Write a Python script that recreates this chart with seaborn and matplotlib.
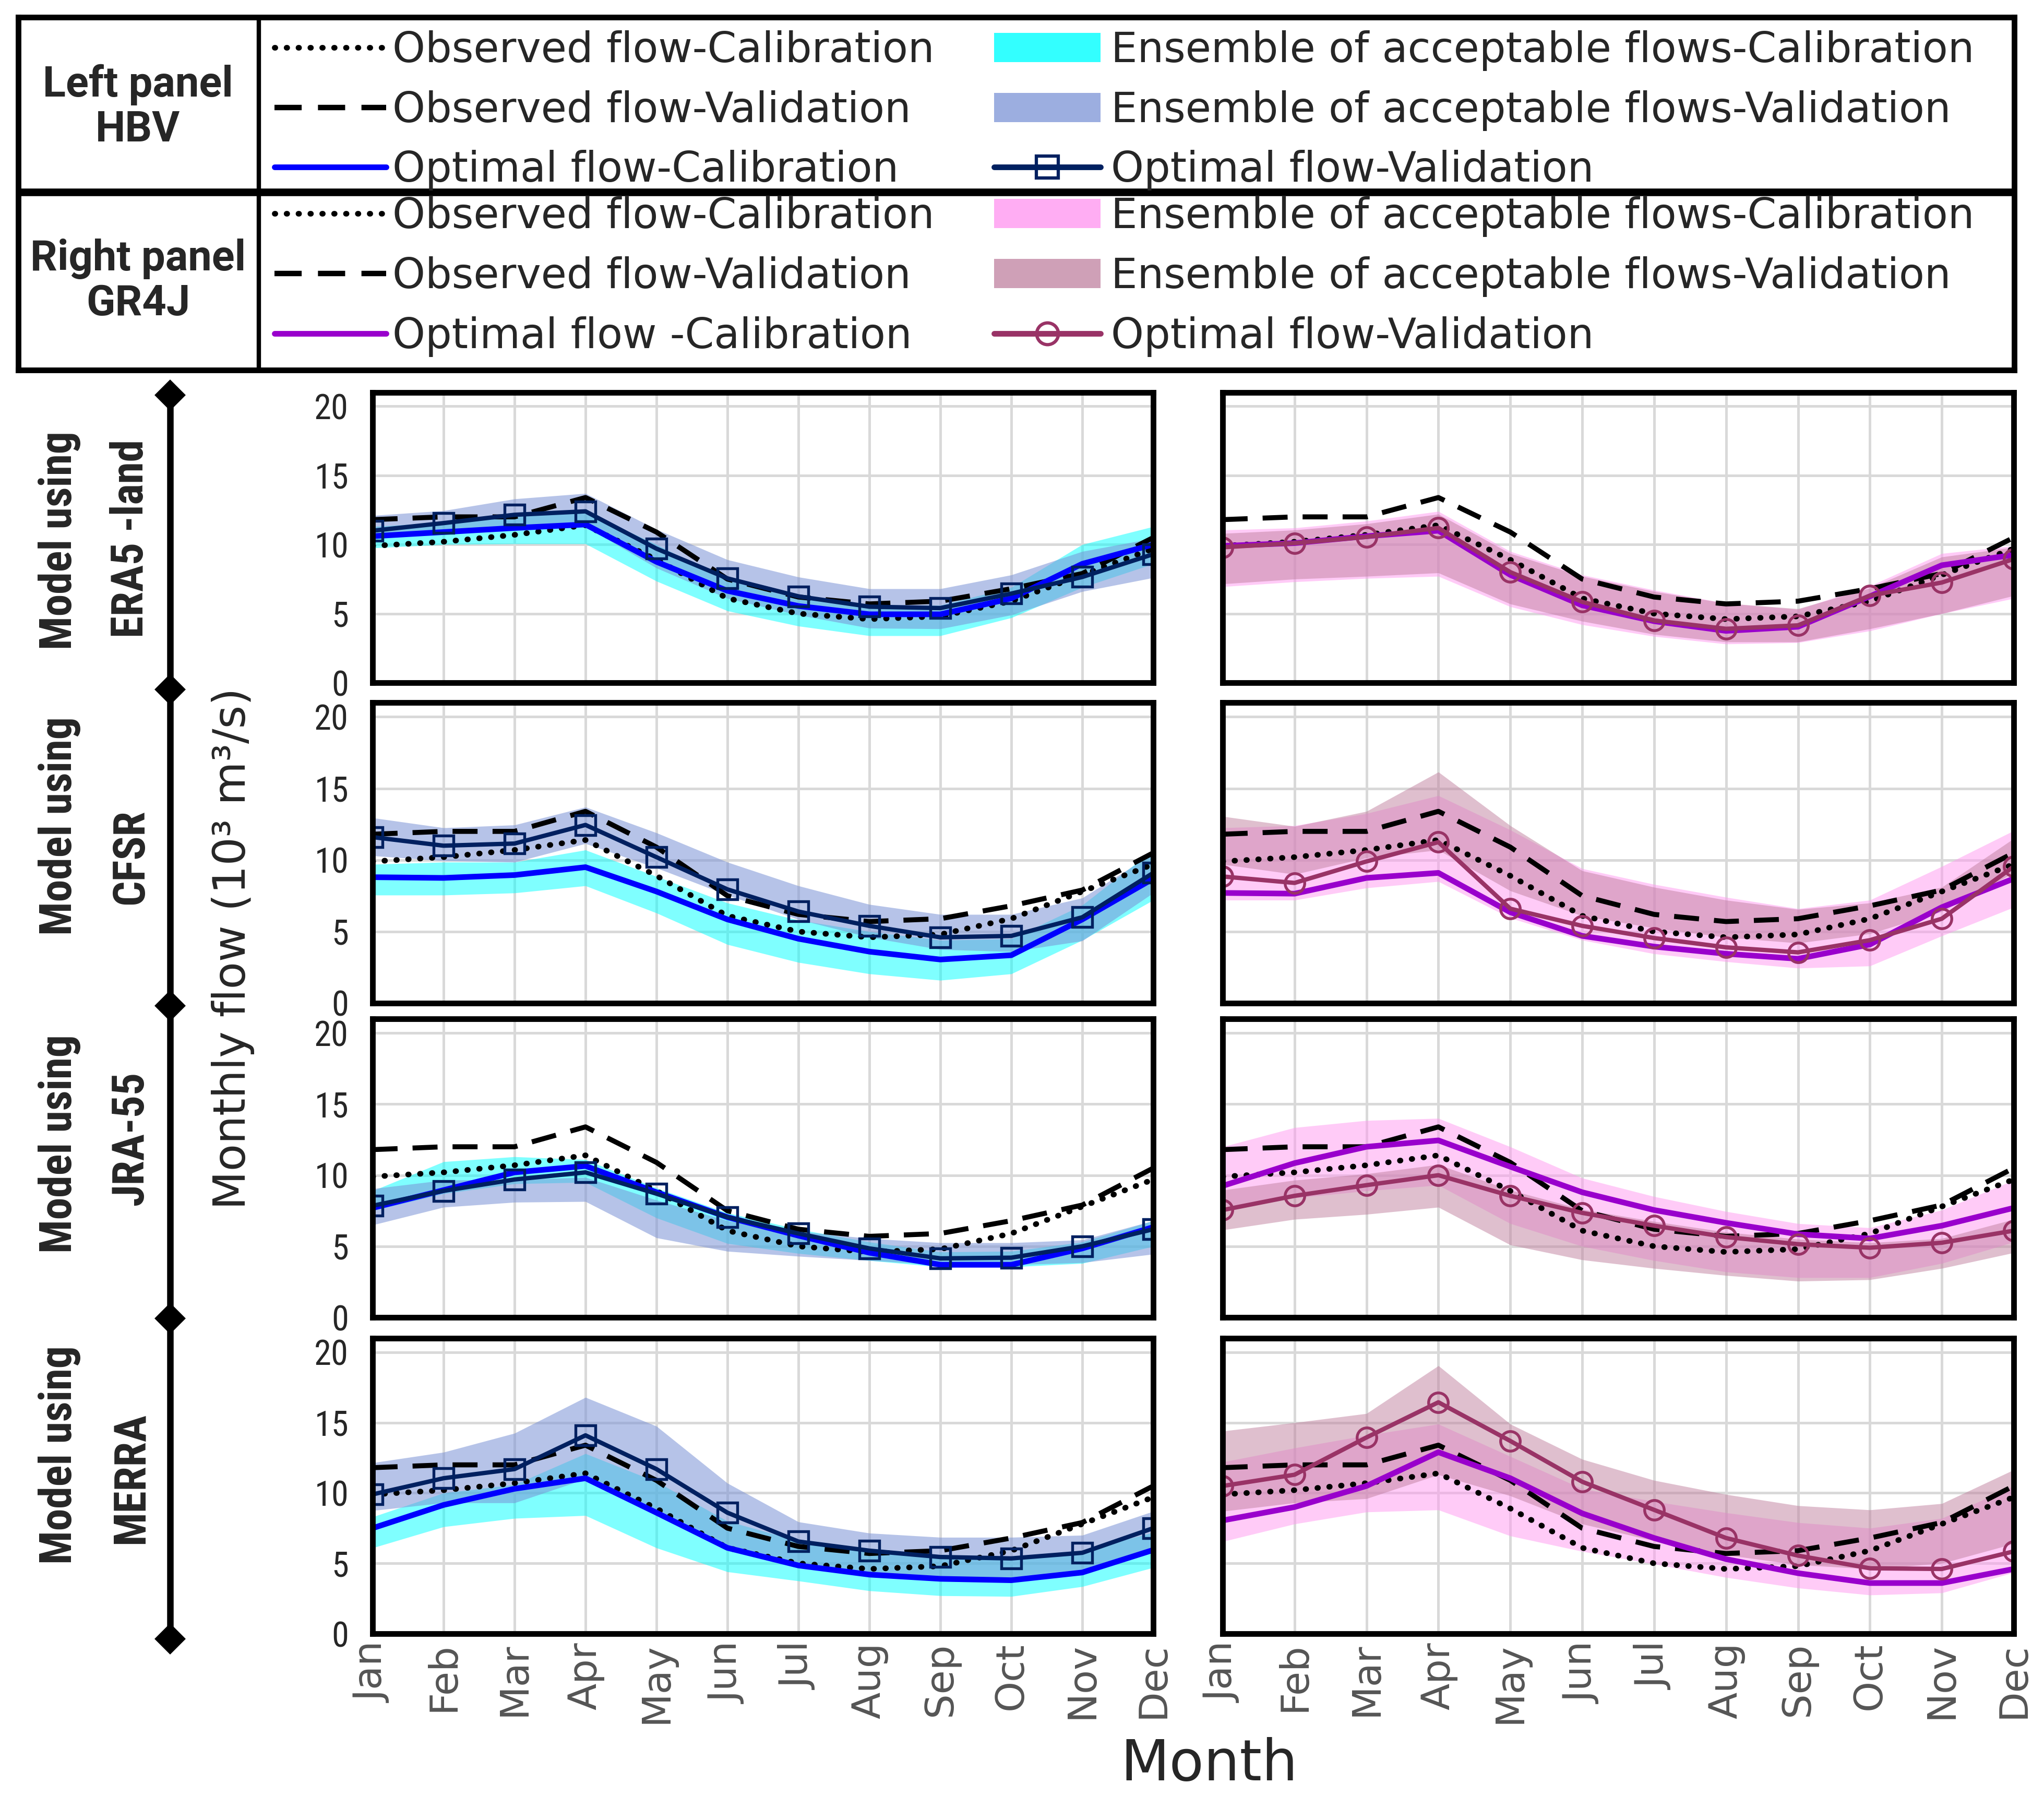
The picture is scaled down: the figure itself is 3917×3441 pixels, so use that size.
import numpy as np
import pandas as pd
import matplotlib
matplotlib.use('Agg')
import matplotlib.pyplot as plt
import seaborn as sns
from matplotlib.lines import Line2D
from matplotlib.patches import Patch

# ---- data (10^3 m3/s) ----
months = ['Jan', 'Feb', 'Mar', 'Apr', 'May', 'Jun', 'Jul', 'Aug', 'Sep', 'Oct', 'Nov', 'Dec']
obs_cal = [9.9, 10.2, 10.7, 11.4, 8.9, 6.1, 5.0, 4.6, 4.8, 5.9, 7.8, 9.7]
obs_val = [11.8, 12.0, 12.0, 13.4, 10.9, 7.5, 6.2, 5.7, 5.9, 6.8, 7.9, 10.5]

# HBV - ERA5-land
hbv_era5_opt_cal = [10.6, 10.9, 11.2, 11.45, 8.75, 6.65, 5.55, 4.95, 4.95, 6.1, 8.6, 10.0]
hbv_era5_opt_val = [11.0, 11.55, 12.15, 12.4, 9.7, 7.55, 6.25, 5.5, 5.4, 6.45, 7.65, 9.3]
hbv_era5_cal_lo = [9.75, 10.0, 10.05, 10.05, 7.35, 5.2, 4.1, 3.4, 3.4, 4.7, 6.9, 8.6]
hbv_era5_cal_hi = [11.3, 11.6, 12.0, 12.4, 10.0, 7.4, 6.1, 5.6, 5.6, 6.9, 10.0, 11.3]
hbv_era5_val_lo = [10.45, 10.75, 11.0, 11.3, 8.3, 6.1, 4.9, 3.95, 3.9, 4.9, 6.6, 7.6]
hbv_era5_val_hi = [12.1, 12.45, 13.3, 13.7, 11.1, 8.9, 7.65, 6.8, 6.8, 7.8, 9.5, 10.45]

# GR4J - ERA5-land
gr_era5_opt_cal = [9.9, 10.1, 10.6, 11.0, 7.8, 5.6, 4.45, 3.75, 4.05, 6.25, 8.5, 9.25]
gr_era5_opt_val = [9.8, 10.1, 10.55, 11.2, 8.0, 5.85, 4.5, 3.9, 4.15, 6.3, 7.25, 8.95]
gr_era5_cal_lo = [6.95, 7.3, 7.55, 7.7, 5.5, 4.2, 3.35, 2.8, 2.9, 3.75, 5.0, 6.1]
gr_era5_cal_hi = [11.05, 11.2, 11.7, 12.4, 9.5, 7.8, 6.7, 5.75, 5.3, 7.0, 9.35, 9.9]
gr_era5_val_lo = [7.15, 7.5, 7.7, 7.95, 5.7, 4.45, 3.5, 2.95, 2.95, 3.9, 5.0, 6.3]
gr_era5_val_hi = [10.8, 11.05, 11.5, 12.2, 9.35, 7.7, 6.6, 5.75, 5.35, 6.85, 9.1, 9.8]

# HBV - CFSR
hbv_cfsr_opt_cal = [8.8, 8.75, 8.95, 9.5, 7.8, 5.85, 4.5, 3.6, 3.05, 3.35, 5.85, 8.7]
hbv_cfsr_opt_val = [11.6, 11.0, 11.15, 12.45, 10.2, 7.95, 6.4, 5.4, 4.6, 4.7, 6.0, 9.1]
hbv_cfsr_cal_lo = [7.55, 7.55, 7.7, 8.2, 6.3, 4.1, 2.85, 2.05, 1.6, 2.05, 4.4, 7.2]
hbv_cfsr_cal_hi = [9.7, 9.85, 9.85, 10.7, 8.85, 7.0, 5.8, 5.0, 4.4, 4.5, 6.85, 10.7]
hbv_cfsr_val_lo = [10.3, 9.95, 9.85, 11.15, 9.45, 7.55, 5.85, 4.6, 3.75, 3.6, 4.35, 7.7]
hbv_cfsr_val_hi = [12.95, 12.25, 12.45, 13.7, 11.9, 9.85, 8.2, 6.9, 6.2, 6.2, 7.35, 10.45]

# GR4J - CFSR
gr_cfsr_opt_cal = [7.7, 7.65, 8.75, 9.1, 6.35, 4.7, 3.95, 3.45, 3.1, 4.1, 6.7, 8.7]
gr_cfsr_opt_val = [8.85, 8.4, 9.9, 11.25, 6.6, 5.4, 4.55, 3.9, 3.55, 4.4, 5.9, 9.55]
gr_cfsr_cal_lo = [7.2, 7.2, 8.05, 8.5, 5.95, 4.4, 3.45, 2.9, 2.45, 2.6, 4.7, 6.7]
gr_cfsr_cal_hi = [12.25, 12.4, 13.25, 14.5, 12.1, 9.4, 8.3, 7.4, 6.6, 7.2, 9.55, 12.05]
gr_cfsr_val_lo = [9.7, 9.0, 10.15, 10.7, 7.85, 6.1, 5.25, 4.6, 4.2, 4.85, 6.4, 9.1]
gr_cfsr_val_hi = [13.05, 12.35, 13.4, 16.15, 12.4, 9.25, 8.1, 7.2, 6.55, 7.0, 8.1, 11.5]

# HBV - JRA-55
hbv_jra_opt_cal = [7.7, 8.95, 10.2, 10.65, 8.8, 7.05, 5.75, 4.55, 3.7, 3.7, 4.85, 6.35]
hbv_jra_opt_val = [7.85, 8.9, 9.7, 10.2, 8.7, 7.05, 5.9, 4.85, 4.15, 4.2, 5.0, 6.2]
hbv_jra_cal_lo = [7.5, 8.7, 9.4, 9.5, 7.0, 5.2, 4.5, 4.0, 3.55, 3.55, 3.8, 5.0]
hbv_jra_cal_hi = [8.9, 10.95, 11.3, 11.1, 9.1, 7.35, 6.2, 5.3, 4.6, 4.65, 5.3, 6.8]
hbv_jra_val_lo = [6.5, 7.75, 8.1, 8.15, 5.6, 4.65, 4.3, 4.0, 3.7, 3.7, 3.85, 4.45]
hbv_jra_val_hi = [9.05, 9.65, 9.7, 9.85, 8.25, 6.8, 6.05, 5.55, 5.25, 5.25, 5.45, 6.8]

# GR4J - JRA-55
gr_jra_opt_cal = [9.25, 10.85, 12.0, 12.45, 10.6, 8.8, 7.55, 6.65, 5.85, 5.55, 6.45, 7.7]
gr_jra_opt_val = [7.55, 8.55, 9.3, 10.0, 8.55, 7.35, 6.45, 5.65, 5.15, 4.9, 5.25, 6.1]
gr_jra_cal_lo = [7.8, 8.4, 8.9, 9.3, 6.6, 5.0, 4.0, 3.2, 2.8, 2.8, 3.8, 5.3]
gr_jra_cal_hi = [12.0, 13.35, 13.85, 14.0, 12.0, 9.8, 8.5, 7.45, 6.6, 6.3, 7.55, 9.65]
gr_jra_val_lo = [6.15, 6.9, 7.25, 7.75, 5.1, 4.05, 3.45, 2.95, 2.55, 2.65, 3.45, 4.55]
gr_jra_val_hi = [8.95, 9.65, 10.1, 10.75, 8.95, 7.6, 6.75, 6.0, 5.5, 5.25, 5.55, 6.9]

# HBV - MERRA
hbv_merra_opt_cal = [7.5, 9.15, 10.3, 11.05, 8.6, 6.1, 4.85, 4.2, 3.9, 3.8, 4.35, 5.95]
hbv_merra_opt_val = [9.9, 11.05, 11.7, 14.1, 11.7, 8.6, 6.55, 5.9, 5.45, 5.35, 5.75, 7.5]
hbv_merra_cal_lo = [6.1, 7.6, 8.2, 8.4, 6.1, 4.4, 3.75, 3.05, 2.7, 2.65, 3.35, 4.7]
hbv_merra_cal_hi = [8.3, 10.0, 10.6, 12.8, 10.8, 8.0, 6.6, 6.0, 5.6, 5.5, 5.9, 7.2]
hbv_merra_val_lo = [8.75, 9.3, 9.3, 11.0, 8.8, 6.2, 4.9, 4.3, 4.0, 3.9, 4.4, 5.9]
hbv_merra_val_hi = [12.15, 12.9, 14.25, 16.8, 14.75, 10.7, 7.95, 7.15, 6.85, 6.85, 7.0, 8.7]

# GR4J - MERRA
gr_merra_opt_cal = [8.05, 9.0, 10.5, 12.9, 11.05, 8.55, 6.8, 5.3, 4.3, 3.6, 3.6, 4.6]
gr_merra_opt_val = [10.5, 11.3, 13.95, 16.45, 13.7, 10.8, 8.8, 6.8, 5.55, 4.65, 4.6, 5.85]
gr_merra_cal_lo = [6.55, 7.8, 8.65, 8.8, 6.95, 5.85, 4.95, 4.0, 3.25, 2.75, 2.9, 4.35]
gr_merra_cal_hi = [12.2, 13.2, 14.1, 14.9, 12.6, 10.3, 9.4, 8.6, 7.9, 7.5, 8.2, 10.5]
gr_merra_val_lo = [8.7, 9.3, 9.6, 11.3, 9.8, 7.8, 6.6, 5.6, 4.9, 4.6, 5.0, 6.4]
gr_merra_val_hi = [14.4, 15.0, 15.65, 19.05, 14.9, 12.4, 10.9, 9.9, 9.1, 8.8, 9.25, 11.65]

row_names = ['ERA5 -land', 'CFSR', 'JRA-55', 'MERRA']

# ---- style ----
sns.set_theme(style='white')
plt.rcParams['font.family'] = ['DejaVu Sans']
narrow = ['Roboto Condensed', 'DejaVu Sans']
bold_face = ['Roboto', 'DejaVu Sans']

hbv_colors = dict(cal_band='#00ffff', val_band='#7b93d6', opt_cal='#0000ff', opt_val='#002060', marker='s')
gr_colors = dict(cal_band='#ff99f0', val_band='#c0809f', opt_cal='#9900cc', opt_val='#993366', marker='o')
dotted = (0, (0.1, 2.0))
dashed = (0, (5, 3))


def draw_panel(ax, opt_cal, opt_val, cal_lo, cal_hi, val_lo, val_hi, c, bottom, left):
    x = np.arange(len(months))
    df = pd.DataFrame({'m': x, 'obs_cal': obs_cal, 'obs_val': obs_val,
                       'opt_cal': opt_cal, 'opt_val': opt_val})
    ax.fill_between(x, cal_lo, cal_hi, color=c['cal_band'], alpha=0.5, lw=0)
    ax.fill_between(x, val_lo, val_hi, color=c['val_band'], alpha=0.55 if c is hbv_colors else 0.5, lw=0)
    sns.lineplot(data=df, x='m', y='obs_cal', ax=ax, color='black', lw=2.6,
                 linestyle=dotted, dash_capstyle='round', errorbar=None)
    sns.lineplot(data=df, x='m', y='obs_val', ax=ax, color='black', lw=2.3,
                 linestyle=dashed, errorbar=None)
    sns.lineplot(data=df, x='m', y='opt_cal', ax=ax, color=c['opt_cal'], lw=2.6, errorbar=None)
    sns.lineplot(data=df, x='m', y='opt_val', ax=ax, color=c['opt_val'], lw=2.0,
                 marker=c['marker'], markersize=9, markerfacecolor='none',
                 markeredgecolor=c['opt_val'], markeredgewidth=1.3, errorbar=None)
    ax.set_xlim(0, 11)
    ax.set_ylim(0, 21)
    ax.set_xticks(x)
    ax.set_yticks([0, 5, 10, 15, 20])
    ax.set_axisbelow(True)
    ax.grid(True, color='#d9d9d9', lw=1.2)
    for s in ax.spines.values():
        s.set_visible(True)
        s.set_color('black')
        s.set_linewidth(2.6)
    ax.set_xlabel('')
    ax.set_ylabel('')
    if bottom:
        ax.set_xticklabels(months, rotation=90, fontsize=18, color='#555555')
    else:
        ax.set_xticklabels([])
    ax.tick_params(axis='x', length=0, pad=4)
    if left:
        ax.tick_params(axis='y', length=7, width=1.6, direction='out', pad=4)
        for t in ax.get_yticklabels():
            t.set(fontsize=16, family=narrow)
    else:
        ax.tick_params(axis='y', length=0, labelleft=False)


W, H = 3917, 3441
fig = plt.figure(figsize=(W / 300, H / 300), dpi=300)

rows_px = [(752, 1308), (1346, 1922), (1952, 2524), (2564, 3130)]
left_x = (714, 2210)
right_x = (2343, 3859)

hbv_data = [
    (hbv_era5_opt_cal, hbv_era5_opt_val, hbv_era5_cal_lo, hbv_era5_cal_hi, hbv_era5_val_lo, hbv_era5_val_hi),
    (hbv_cfsr_opt_cal, hbv_cfsr_opt_val, hbv_cfsr_cal_lo, hbv_cfsr_cal_hi, hbv_cfsr_val_lo, hbv_cfsr_val_hi),
    (hbv_jra_opt_cal, hbv_jra_opt_val, hbv_jra_cal_lo, hbv_jra_cal_hi, hbv_jra_val_lo, hbv_jra_val_hi),
    (hbv_merra_opt_cal, hbv_merra_opt_val, hbv_merra_cal_lo, hbv_merra_cal_hi, hbv_merra_val_lo, hbv_merra_val_hi),
]
gr_data = [
    (gr_era5_opt_cal, gr_era5_opt_val, gr_era5_cal_lo, gr_era5_cal_hi, gr_era5_val_lo, gr_era5_val_hi),
    (gr_cfsr_opt_cal, gr_cfsr_opt_val, gr_cfsr_cal_lo, gr_cfsr_cal_hi, gr_cfsr_val_lo, gr_cfsr_val_hi),
    (gr_jra_opt_cal, gr_jra_opt_val, gr_jra_cal_lo, gr_jra_cal_hi, gr_jra_val_lo, gr_jra_val_hi),
    (gr_merra_opt_cal, gr_merra_opt_val, gr_merra_cal_lo, gr_merra_cal_hi, gr_merra_val_lo, gr_merra_val_hi),
]

for i, (top, bot) in enumerate(rows_px):
    b = 1 - bot / H
    h = (bot - top) / H
    axl = fig.add_axes([left_x[0] / W, b, (left_x[1] - left_x[0]) / W, h])
    draw_panel(axl, *hbv_data[i], hbv_colors, bottom=(i == 3), left=True)
    axr = fig.add_axes([right_x[0] / W, b, (right_x[1] - right_x[0]) / W, h])
    draw_panel(axr, *gr_data[i], gr_colors, bottom=(i == 3), left=False)

# ---- side labels and bracket line ----
label1_y = [0.699, 0.540, 0.363, 0.190]
label2_y = [0.700, 0.523, 0.366, 0.177]
for i, name in enumerate(row_names):
    fig.text(0.0290, label1_y[i], 'Model using', rotation=90, ha='center', va='center',
             fontsize=20.5, fontweight='bold', family=narrow)
    fig.text(0.0640, label2_y[i], name, rotation=90, ha='center', va='center',
             fontsize=20.5, fontweight='bold', family=narrow)

diamond_y = [0.0875, 0.266, 0.440, 0.616, 0.780]
fig.add_artist(Line2D([0.0832, 0.0832], [diamond_y[0], diamond_y[-1]], transform=fig.transFigure,
                      color='black', lw=3))
fig.add_artist(Line2D([0.0832] * len(diamond_y), diamond_y, transform=fig.transFigure,
                      color='black', lw=0, marker='D', markersize=9))

fig.text(0.1139, 0.472, 'Monthly flow (10³ m³/s)', rotation=90, ha='center', va='center', fontsize=20.5)
fig.text(0.5917, 0.0175, 'Month', ha='center', va='center', fontsize=26)

# ---- legend table ----
tab = fig.add_axes([35 / W, 1 - 709 / H, 3825 / W, 676 / H])
tab.set_xlim(0, 1)
tab.set_ylim(0, 1)
tab.set_xticks([])
tab.set_yticks([])
for s in tab.spines.values():
    s.set_visible(True)
    s.set_color('black')
    s.set_linewidth(2.6)
tab.axvline(0.1205, color='black', lw=2)
tab.axhline(0.5044, color='black', lw=3.5)
tab.text(0.060, 0.745, 'Left panel\nHBV', ha='center', va='center', fontsize=19.5,
         fontweight='bold', linespacing=1.12, family=bold_face)
tab.text(0.060, 0.2515, 'Right panel\nGR4J', ha='center', va='center', fontsize=19.5,
         fontweight='bold', linespacing=1.12, family=bold_face)


def legend_col(handles, labels, x, y, hlen, pad):
    fig.legend(handles=handles, labels=labels, loc='center left', bbox_to_anchor=(x, y),
               bbox_transform=fig.transFigure, frameon=False, fontsize=19.2,
               handlelength=hlen, handletextpad=pad, labelspacing=0.46,
               borderpad=0, borderaxespad=0)


for c, y, opt_cal_lbl in [(hbv_colors, 0.9385, 'Optimal flow-Calibration'),
                          (gr_colors, 0.8460, 'Optimal flow -Calibration')]:
    h_obs_cal = Line2D([], [], color='black', lw=2.6, linestyle=dotted, dash_capstyle='round')
    h_obs_val = Line2D([], [], color='black', lw=2.5, linestyle=dashed)
    h_opt_cal = Line2D([], [], color=c['opt_cal'], lw=2.6)
    h_ens_cal = Patch(facecolor=c['cal_band'], alpha=0.8, lw=0)
    h_ens_val = Patch(facecolor=c['val_band'], alpha=0.75, lw=0)
    h_opt_val = Line2D([], [], color=c['opt_val'], lw=2.6, marker=c['marker'], markersize=10,
                       markerfacecolor='none', markeredgewidth=1.5)
    legend_col([h_obs_cal, h_obs_val, h_opt_cal],
               ['Observed flow-Calibration', 'Observed flow-Validation', opt_cal_lbl], 0.1343, y, 2.67, 0.15)
    legend_col([h_ens_cal, h_ens_val, h_opt_val],
               ['Ensemble of acceptable flows-Calibration', 'Ensemble of acceptable flows-Validation',
                'Optimal flow-Validation'], 0.4863, y, 2.55, 0.25)

fig.savefig('out.png', dpi=300)
